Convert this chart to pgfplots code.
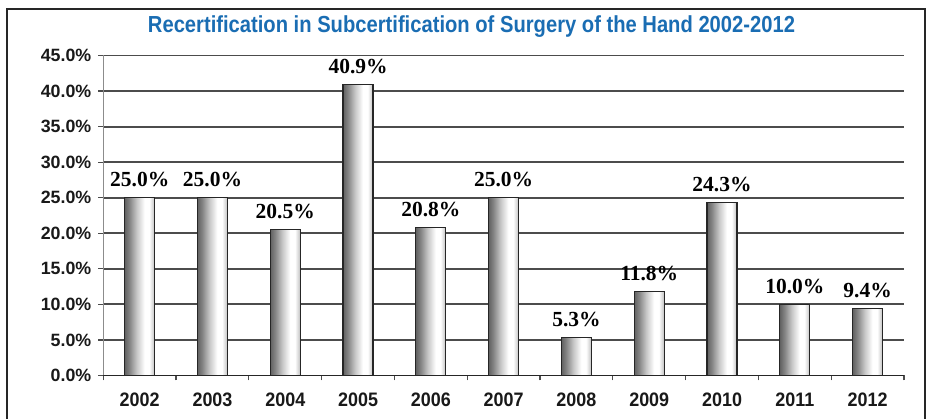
\documentclass[border=0pt]{standalone}
\usepackage{fontspec}
\setmainfont{Liberation Sans}
\newfontfamily\tickfont{Liberation Sans}[FakeStretch=0.92]
\newfontfamily\valfont{Liberation Serif}
\usepackage{graphicx}
\usepackage{pgfplots}
\pgfplotsset{compat=1.18}
\definecolor{titleblue}{HTML}{1A6DB3}
\pgfdeclarehorizontalshading{barshade}{100bp}{color(0bp)=(black!62); color(25bp)=(black!62); color(33bp)=(black!48); color(45bp)=(black!22); color(58bp)=(white); color(66bp)=(white); color(75bp)=(black!25); color(100bp)=(black!25)}
\pgfplotsset{mybar/.style={ybar, bar width=30pt, draw=black!85, line width=1.2pt, shade, shading=barshade,
  nodes near coords={\pgfmathprintnumber[fixed,fixed zerofill,precision=1]{\pgfplotspointmeta}\%},
  nodes near coords style={font=\valfont\fontsize{21.5}{21.5}\selectfont\bfseries, text=black, anchor=base, yshift=11pt}}}
\begin{document}
\begin{tikzpicture}
\useasboundingbox (0,0) rectangle (931pt,419pt);
\draw[black!85, line width=1.5pt] (7pt,-2pt) -- (7pt,410pt) -- (925pt,410pt) -- (925pt,-2pt);
\node[font=\fontsize{23.2}{23.2}\selectfont\bfseries, text=titleblue, anchor=base] at (471.5pt,386pt) {\resizebox{647pt}{\height}{Recertification in Subcertification of Surgery of the Hand 2002-2012}};
\begin{axis}[
  at={(103.3pt,43.5pt)}, anchor=south west,
  scale only axis, width=800.7pt, height=320pt,
  xmin=-0.5, xmax=10.5, ymin=0, ymax=45,
  axis x line*=bottom, axis y line*=left,
  x axis line style={-, black!85, line width=1.3pt},
  y axis line style={-, black!45, line width=1.5pt},
  /pgf/number format/assume math mode=true,
  ytick={0,5,...,45},
  yticklabel={\pgfmathprintnumber[fixed,fixed zerofill,precision=1]{\tick}\%},
  yticklabel style={font=\fontsize{17.8}{17.8}\selectfont\bfseries, black!90, xshift=-3.5pt},
  xtick={-0.5,0.5,...,10.5},
  xticklabels={2002,2003,2004,2005,2006,2007,2008,2009,2010,2011,2012,{}},
  xticklabel style={font=\tickfont\fontsize{19.5}{19.5}\selectfont\bfseries, black!90, xshift=36.4pt, yshift=-9pt},
  tick align=outside, major tick length=5pt,
  tick style={black!70, line width=1.2pt},
  ymajorgrids, grid style={line width=1.8pt, black!70},
  clip=false,
]
\addplot[mybar] coordinates {(0,25.0)};
\addplot[mybar] coordinates {(1,25.0)};
\addplot[mybar] coordinates {(2,20.5)};
\addplot[mybar] coordinates {(3,40.9)};
\addplot[mybar] coordinates {(4,20.8)};
\addplot[mybar] coordinates {(5,25.0)};
\addplot[mybar] coordinates {(6,5.3)};
\addplot[mybar] coordinates {(7,11.8)};
\addplot[mybar] coordinates {(8,24.3)};
\addplot[mybar] coordinates {(9,10.0)};
\addplot[mybar] coordinates {(10,9.4)};
\end{axis}
\end{tikzpicture}
\end{document}
